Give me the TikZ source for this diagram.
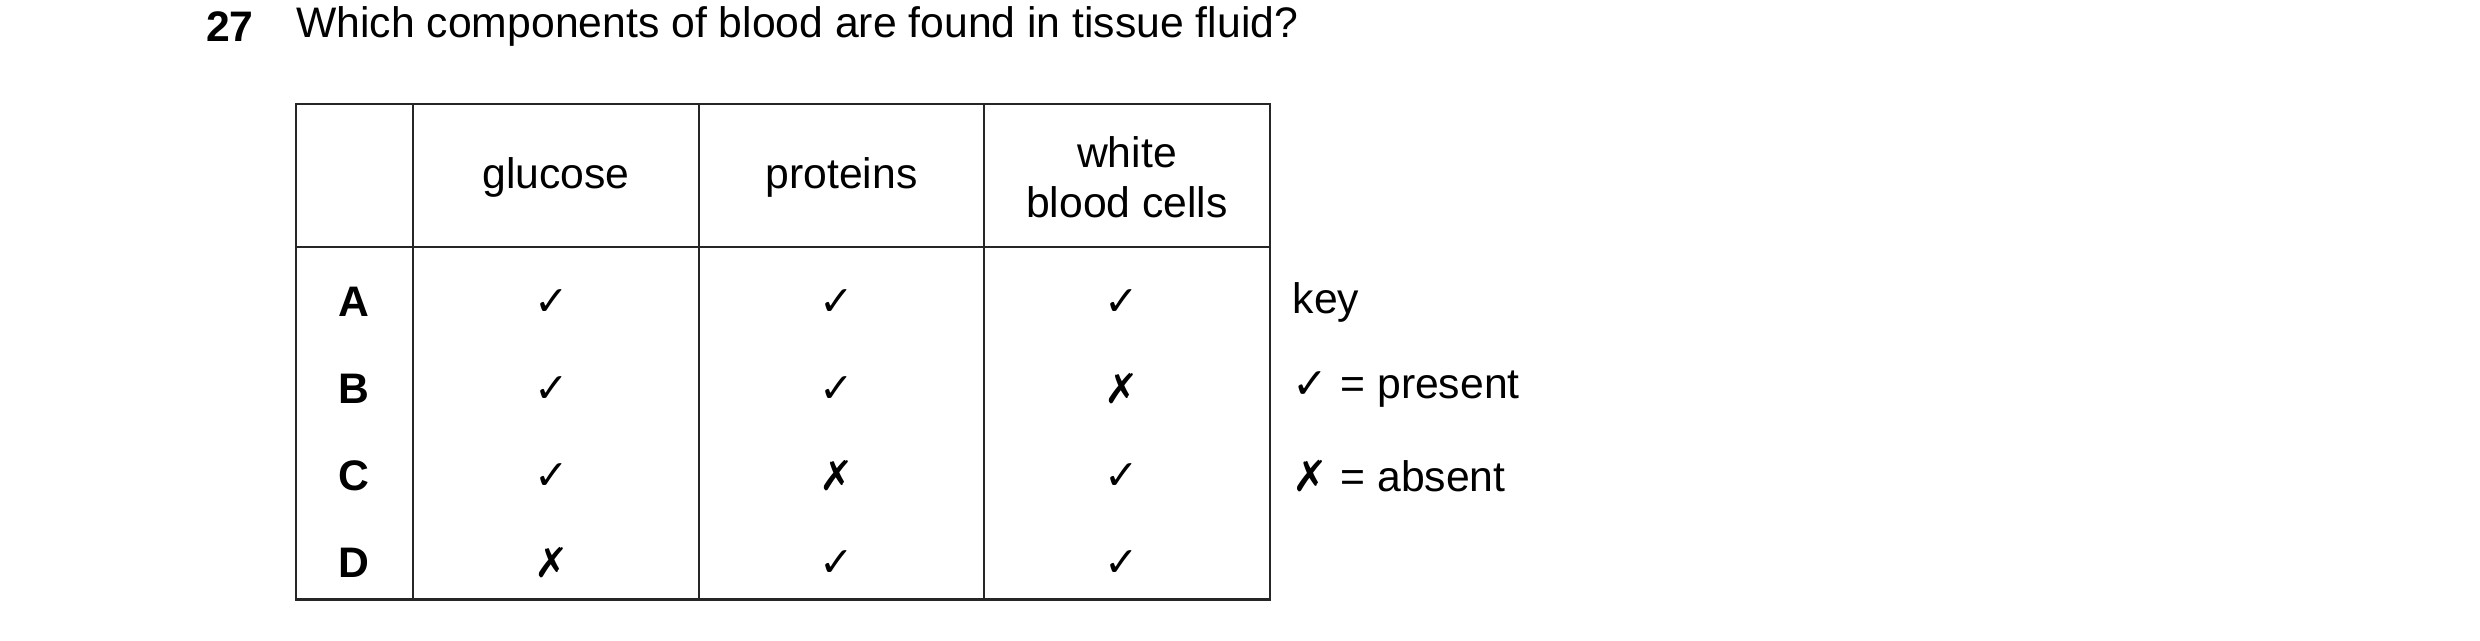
\documentclass[tikz,border=0pt]{standalone}
\usepackage{fontspec}
\setmainfont{Liberation Sans}
\newfontfamily\symf{DejaVu Sans}
\begin{document}
\begin{tikzpicture}[x=0.5pt,y=-0.5pt,
  txt/.style={font=\fontsize{13.5}{16}\selectfont,inner sep=0pt},
  lbl/.style={font=\fontsize{13.5}{16}\selectfont\bfseries,inner sep=0pt},
  mk/.style={font=\fontsize{13}{16}\symf,inner sep=0pt},
  grid/.style={line width=0.7pt,draw=black!85}]
\useasboundingbox (0,0) rectangle (1568,405);
\node[lbl,anchor=west] (num) at (130,17) {27};
\node[txt,anchor=west] (q) at (187,17) {Which components of blood are found in tissue fluid?};
\draw[grid] (187,66) rectangle (803,379);
\draw[grid] (187,156) -- (803,156);
\foreach \x in {261,442,622} \draw[grid] (\x,66) -- (\x,379);
\node[txt] (h1) at (351.5,112) {glucose};
\node[txt] (h2) at (532,112) {proteins};
\node[txt,align=center] (h3) at (712.5,112) {white\\blood cells};
\foreach \r/\y/\a/\b/\c in {A/191/✓/✓/✓,B/246/✓/✓/✗,C/301/✓/✗/✓,D/356/✗/✓/✓}{
  \node[lbl] (r\r) at (224,\y) {\r};
  \node[mk] (g\r) at (349,\y) {\a};
  \node[mk] (p\r) at (529,\y) {\b};
  \node[mk] (w\r) at (709,\y) {\c};
}
\node[txt,anchor=west] (key) at (817,191) {key};
\node[txt,anchor=west] (k1) at (817,246) {{\symf ✓} = present};
\node[txt,anchor=west] (k2) at (817,301) {{\symf ✗} = absent};
\end{tikzpicture}
\end{document}
